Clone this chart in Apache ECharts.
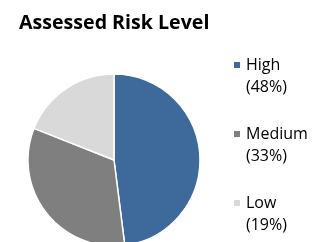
<!DOCTYPE html>
<html>
<head>
<meta charset="utf-8">
<script src="https://cdn.jsdelivr.net/npm/echarts@6/dist/echarts.min.js"></script>
<style>
  html, body { margin: 0; padding: 0; background: #fff; }
  #chart { width: 322px; height: 242px; }
</style>
</head>
<body>
<div id="chart"></div>
<script>
var categories = ['High', 'Medium', 'Low'];
var values = [48, 33, 19];
var colors = ['#3E6A9B', '#7F7F7F', '#D9D9D9'];

var total = values.reduce(function (a, b) { return a + b; }, 0);
var pieData = categories.map(function (name, i) {
  return { name: name, value: values[i], itemStyle: { color: colors[i] } };
});

var chart = echarts.init(document.getElementById('chart'));
chart.setOption({
  animation: false,
  title: {
    text: 'Assessed Risk Level',
    left: 19,
    top: 13,
    padding: 0,
    textStyle: {
      fontFamily: 'Open Sans',
      fontWeight: 'bold',
      fontSize: 19.6,
      color: '#000'
    }
  },
  legend: {
    orient: 'vertical',
    left: 232,
    top: 32,
    padding: 0,
    itemGap: 3,
    itemWidth: 8,
    itemHeight: 8,
    icon: 'rect',
    data: categories,
    formatter: function (name) {
      var i = categories.indexOf(name);
      // leading blank line keeps the marker level with the first line
      return ' \n' + name + '\n(' + Math.round(values[i] / total * 100) + '%)';
    },
    textStyle: {
      fontFamily: 'Open Sans',
      fontSize: 16,
      lineHeight: 22,
      color: '#000'
    }
  },
  series: [{
    type: 'pie',
    center: [114, 160],
    radius: 86,
    startAngle: 90,
    clockwise: true,
    label: { show: false },
    labelLine: { show: false },
    itemStyle: { borderColor: '#fff', borderWidth: 1.5 },
    emphasis: { disabled: true },
    data: pieData
  }]
});
</script>
</body>
</html>
